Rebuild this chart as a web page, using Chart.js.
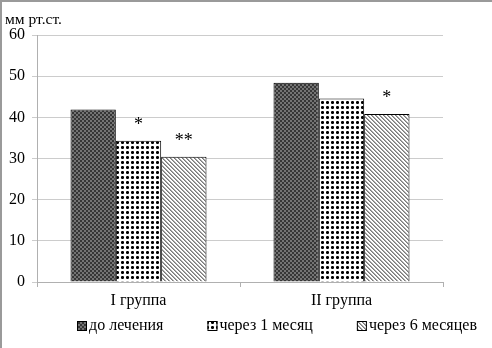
<!DOCTYPE html>
<html>
<head>
<meta charset="utf-8">
<script src="https://cdn.jsdelivr.net/npm/chart.js@4/dist/chart.umd.min.js"></script>
<style>
  html, body { margin: 0; padding: 0; background: #fff; }
  canvas { display: block; }
</style>
</head>
<body>
<canvas id="bpChart" width="492" height="348"></canvas>
<script>
var categories = ['I группа', 'II группа'];
var seriesNames = ['до лечения', 'через 1 месяц', 'через 6 месяцев'];
var beforeTreatment = [41.9, 48.4];
var afterOneMonth = [34.3, 44.6];
var afterSixMonths = [30.4, 40.8];
// significance marks, one list per series, one entry per group
var marksBefore = ['', ''];
var marksOneMonth = ['*', ''];
var marksSixMonths = ['**', '*'];
var yMin = 0, yMax = 60, yStep = 10;
var unitLabel = 'мм рт.ст.';

var serif = "'Liberation Serif', 'Times New Roman', serif";

// little tiles for the hatched fills
function makeTile(size, paint) {
    var c = document.createElement('canvas');
    c.width = size;
    c.height = size;
    var g = c.getContext('2d');
    paint(g);
    return document.createElement('canvas').getContext('2d').createPattern(c, 'repeat');
}

var darkFill = makeTile(4, function (g) {
    g.fillStyle = '#747474';
    g.fillRect(0, 0, 4, 4);
    g.fillStyle = '#363636';
    g.fillRect(0, 0, 2, 2);
    g.fillRect(2, 2, 2, 2);
});

// black crosses on white
var dotFill = makeTile(5, function (g) {
    g.fillStyle = '#fff';
    g.fillRect(0, 0, 5, 5);
    g.fillStyle = '#000';
    g.fillRect(1, 2, 3, 1);
    g.fillRect(2, 1, 1, 3);
    g.fillStyle = '#555';
    g.fillRect(1, 1, 1, 1);
    g.fillRect(3, 3, 1, 1);
    g.fillRect(3, 1, 1, 1);
    g.fillRect(1, 3, 1, 1);
});

var hatchFill = makeTile(4, function (g) {
    g.fillStyle = '#fff';
    g.fillRect(0, 0, 4, 4);
    for (var i = 0; i < 4; i++) {
        g.fillStyle = '#7a7a7a';
        g.fillRect(i, i, 1, 1);
        g.fillStyle = '#aaaaaa';
        g.fillRect((i + 1) % 4, i, 1, 1);
    }
});

var fills = [darkFill, dotFill, hatchFill];
var marks = [marksBefore, marksOneMonth, marksSixMonths];

var frame = {
    id: 'frame',
    beforeDraw: function (chart) {
        var c = chart.ctx;
        c.save();
        c.fillStyle = '#fff';
        c.fillRect(0, 0, chart.width, chart.height);
        c.fillStyle = '#9a9a9a';
        c.fillRect(0, 0, chart.width, 2);
        c.fillRect(0, 0, 2, chart.height);
        c.font = '15.5px ' + serif;
        c.fillStyle = '#000';
        c.textBaseline = 'alphabetic';
        c.fillText(unitLabel, 5, 24);
        c.restore();
    }
};

// asterisks over the bars
var starLabels = {
    id: 'starLabels',
    afterDatasetsDraw: function (chart) {
        var c = chart.ctx;
        c.save();
        c.font = '18px ' + serif;
        c.fillStyle = '#000';
        c.textAlign = 'center';
        c.textBaseline = 'alphabetic';
        chart.data.datasets.forEach(function (ds, i) {
            chart.getDatasetMeta(i).data.forEach(function (bar, j) {
                var t = marks[i][j];
                if (t) c.fillText(t, bar.x, bar.y - 11);
            });
        });
        c.restore();
    }
};

// bottom legend row
var bottomLegend = {
    id: 'bottomLegend',
    afterDraw: function (chart) {
        var c = chart.ctx;
        c.save();
        c.font = '16px ' + serif;
        c.textBaseline = 'middle';
        var x = 77, y = 326, gap = 44;
        chart.data.datasets.forEach(function (ds) {
            c.fillStyle = ds.backgroundColor;
            c.fillRect(x, y - 5, 10, 10);
            c.strokeStyle = '#000';
            c.lineWidth = 1;
            c.strokeRect(x + 0.5, y - 4.5, 9, 9);
            c.fillStyle = '#000';
            c.fillText(ds.label, x + 12, y);
            x += 12 + c.measureText(ds.label).width + gap;
        });
        c.restore();
    }
};

var ctx = document.getElementById('bpChart').getContext('2d');

var bpChart = new Chart(ctx, {
    type: 'bar',
    data: {
        labels: categories,
        datasets: [beforeTreatment, afterOneMonth, afterSixMonths].map(function (vals, i) {
            return {
                label: seriesNames[i],
                data: vals,
                backgroundColor: fills[i],
                borderColor: '#000',
                borderWidth: 1,
                categoryPercentage: 0.67,
                barPercentage: 1.0
            };
        })
    },
    options: {
        responsive: false,
        animation: false,
        layout: {
            padding: { left: 0, top: 35, right: 49, bottom: 38 }
        },
        plugins: {
            legend: { display: false },
            tooltip: { enabled: false }
        },
        scales: {
            x: {
                grid: {
                    drawOnChartArea: false,
                    drawTicks: true,
                    tickLength: 5,
                    color: '#b0b0b0'
                },
                border: { color: '#b0b0b0' },
                ticks: {
                    color: '#000',
                    font: { family: serif, size: 16 },
                    padding: 4
                },
                afterFit: function (scale) { scale.height = 28; }
            },
            y: {
                min: yMin,
                max: yMax,
                ticks: {
                    stepSize: yStep,
                    color: '#000',
                    font: { family: serif, size: 16 },
                    padding: 7
                },
                grid: {
                    color: '#cccccc',
                    tickLength: 5
                },
                border: { color: '#b0b0b0' },
                afterFit: function (scale) { scale.width = 37; }
            }
        }
    },
    plugins: [frame, starLabels, bottomLegend]
});
</script>
</body>
</html>
